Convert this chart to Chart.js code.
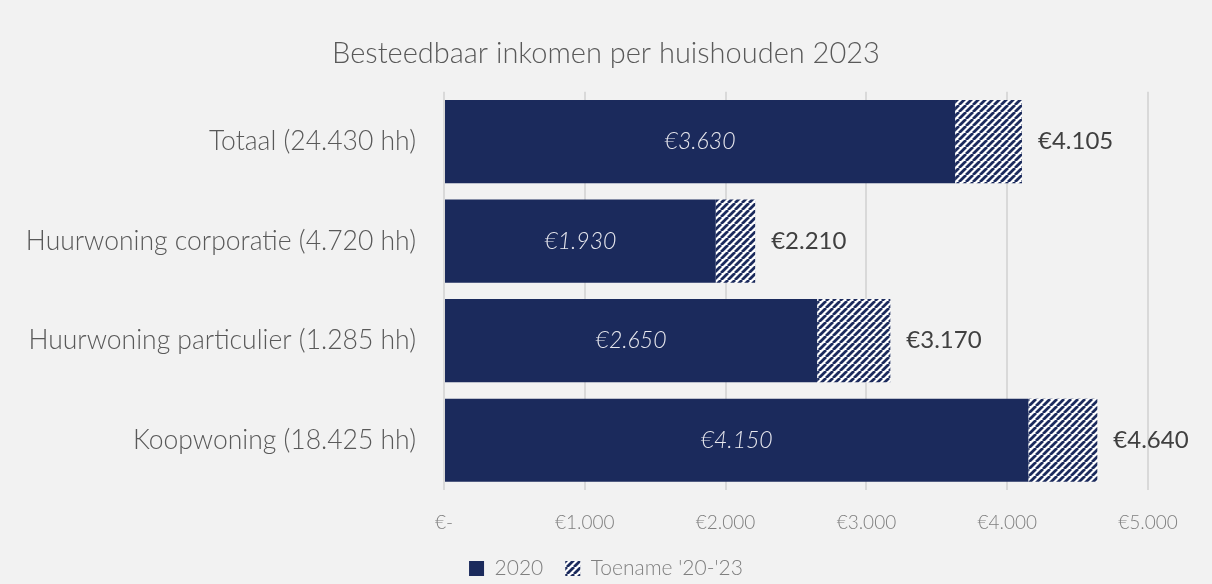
<!DOCTYPE html>
<html>
<head>
<meta charset="utf-8">
<script src="https://cdn.jsdelivr.net/npm/chart.js@4"></script>
<style>
html,body{margin:0;padding:0;background:#f2f2f2;}
#wrap{width:1212px;height:584px;}
</style>
</head>
<body>
<div id="wrap"><canvas id="c" width="1212" height="584"></canvas></div>
<script>
const categories = ['Totaal (24.430 hh)', 'Huurwoning corporatie (4.720 hh)', 'Huurwoning particulier (1.285 hh)', 'Koopwoning (18.425 hh)'];
const values2020 = [3630, 1930, 2650, 4150];
const totals2023 = [4105, 2210, 3170, 4640];
const increase = [475, 280, 520, 490];
const seriesNames = ['2020', "Toename '20-'23"];
const xTicks = [0, 1000, 2000, 3000, 4000, 5000];

const NAVY = '#1b2a5c';
const FONT = 'Lato, "Open Sans", sans-serif';

function makePattern() {
  const s = 7;
  const p = document.createElement('canvas');
  p.width = s; p.height = s;
  const g = p.getContext('2d');
  g.fillStyle = '#ffffff';
  g.fillRect(0, 0, s, s);
  g.strokeStyle = NAVY;
  g.lineWidth = 2.8;
  g.beginPath();
  for (let k = -1; k <= 1; k++) {
    g.moveTo(k * s, s);
    g.lineTo(k * s + s, 0);
  }
  g.stroke();
  return document.getElementById('c').getContext('2d').createPattern(p, 'repeat');
}
const pattern = makePattern();

function fmt(v) {
  return '€' + v.toString().replace(/\B(?=(\d{3})+(?!\d))/g, '.');
}

const labelPlugin = {
  id: 'labels',
  afterDatasetsDraw(chart) {
    const ctx = chart.ctx;
    const m0 = chart.getDatasetMeta(0);
    const m1 = chart.getDatasetMeta(1);
    ctx.save();
    ctx.textBaseline = 'middle';
    m0.data.forEach((bar, i) => {
      ctx.font = 'italic 300 23px ' + FONT;
      ctx.fillStyle = '#e8e8ee';
      ctx.textAlign = 'center';
      ctx.fillText(fmt(values2020[i]), (bar.base + bar.x) / 2, bar.y);
    });
    m1.data.forEach((bar, i) => {
      ctx.font = '24px ' + FONT;
      ctx.fillStyle = '#404040';
      ctx.textAlign = 'left';
      ctx.fillText(fmt(totals2023[i]), bar.x + 16, bar.y);
    });
    ctx.restore();
  }
};

new Chart(document.getElementById('c'), {
  type: 'bar',
  data: {
    labels: categories,
    datasets: [
      { label: seriesNames[0], data: values2020, backgroundColor: NAVY, borderWidth: 0, barPercentage: 0.835, categoryPercentage: 1 },
      { label: seriesNames[1], data: increase, backgroundColor: pattern, borderWidth: 0, barPercentage: 0.835, categoryPercentage: 1 }
    ]
  },
  options: {
    indexAxis: 'y',
    responsive: false,
    animation: false,
    layout: { padding: 0 },
    scales: {
      x: {
        stacked: true,
        min: 0, max: 5000,
        afterBuildTicks(axis) { axis.ticks = xTicks.map(v => ({ value: v })); },
        afterFit(axis) { axis.height = 46; },
        grid: { color: '#d9d9d9', lineWidth: 2, drawTicks: false },
        border: { display: false },
        ticks: {
          padding: 21,
          color: '#7f7f7f',
          font: { family: FONT, size: 19, weight: 300 },
          callback: v => v === 0 ? '€-' : fmt(v)
        }
      },
      y: {
        stacked: true,
        grid: { display: false, drawTicks: false },
        border: { display: false },
        afterFit(axis) { axis.width = 444; },
        ticks: {
          padding: 28,
          color: '#595959',
          font: { family: FONT, size: 26.5, weight: 300 }
        }
      },
      yRight: {
        type: 'category',
        position: 'right',
        grid: { display: false, drawTicks: false },
        border: { display: false },
        ticks: { display: false },
        afterFit(axis) { axis.width = 64; }
      }
    },
    plugins: {
      title: {
        display: true,
        text: 'Besteedbaar inkomen per huishouden 2023',
        color: '#595959',
        font: { family: FONT, size: 29, weight: 300 },
        padding: { top: 36, bottom: 21 }
      },
      legend: {
        position: 'bottom',
        maxHeight: 48,
        labels: {
          boxWidth: 15, boxHeight: 15,
          color: '#7f7f7f',
          font: { family: FONT, size: 21, weight: 300 },
          padding: 22
        }
      },
      tooltip: { enabled: false }
    }
  },
  plugins: [labelPlugin]
});
</script>
</body>
</html>
